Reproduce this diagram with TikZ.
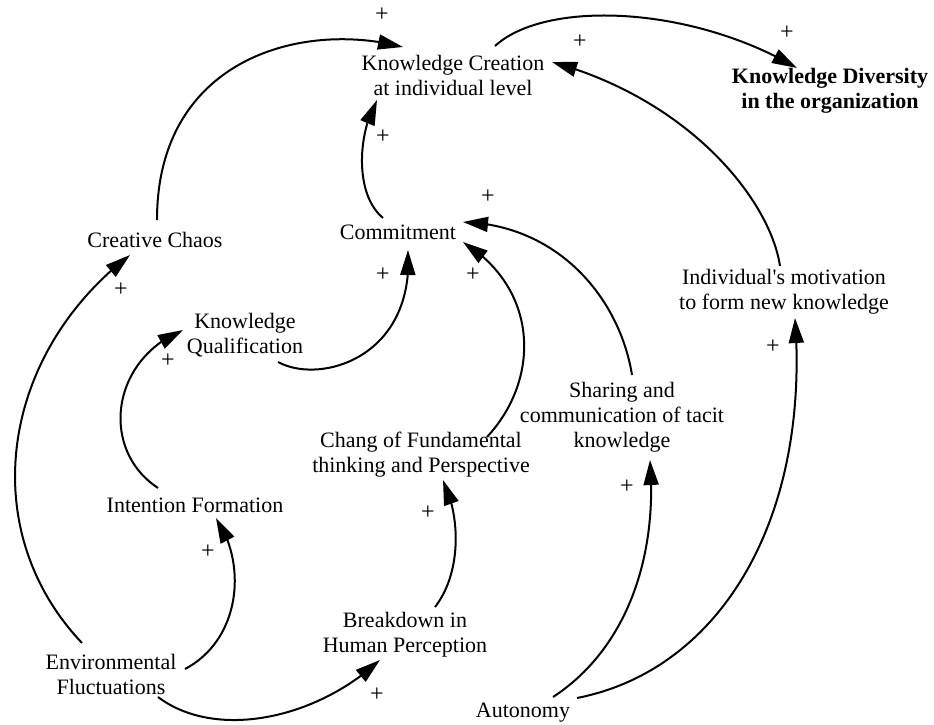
\documentclass[tikz,border=0pt]{standalone}
\usepackage{fontspec}
\setmainfont{Liberation Serif}
\usetikzlibrary{arrows.meta,bending,calc}
\begin{document}
\begin{tikzpicture}[x=1pt,y=-1pt,
  var/.style={align=center,inner sep=0pt,font=\fontsize{22}{25}\selectfont},
  sign/.style={inner sep=0pt,font=\fontsize{24}{24}\selectfont},
  link/.style={line width=2pt,-{Triangle[length=25pt,width=15pt,flex]}}]
\useasboundingbox (0,0) rectangle (934,725);
\fill[white] (0,0) rectangle (934,725);

% variables
\node[var] (kc)  at (453,75)  {Knowledge Creation\\at individual level};
\node[var,font=\fontsize{22}{25}\selectfont\bfseries] (kd) at (830,91) {Knowledge Diversity\\in the organization};
\node[var] (com) at (398,232) {Commitment};
\node[var] (cc)  at (155,240) {Creative Chaos};
\node[var] (kq)  at (245,335) {Knowledge\\Qualification};
\node[var] (im)  at (784,292) {Individual\textquotesingle s motivation\\to form new knowledge};
\node[var] (sh)  at (622,417) {Sharing and\\communication of tacit\\knowledge};
\node[var] (ch)  at (421,455) {Chang of Fundamental\\thinking and Perspective};
\node[var] (inf) at (195,505) {Intention Formation};
\node[var] (bd)  at (405,635) {Breakdown in\\Human Perception};
\node[var] (ef)  at (111,674) {Environmental\\Fluctuations};
\node[var] (au)  at (523,713) {Autonomy};

% causal links
\draw[link] ($(cc.center)+(2,-20)$) .. controls +(0,-160) and +(-103,-27) .. ($(kc.center)+(-50,-28)$);
\draw[link] ($(com.center)+(-15,-14)$) .. controls +(-28,-23) and +(-20,35) .. ($(kc.center)+(-76,25)$);
\draw[link] ($(kc.center)+(42,-29)$) .. controls +(50,-46) and +(-107,-63) .. ($(kd.center)+(-33,-23)$);
\draw[link] ($(im.center)+(-4,-26)$) .. controls +(-10,-66) and +(138,38) .. ($(kc.center)+(99,-13)$);
\draw[link] ($(kq.center)+(33,27)$) .. controls +(42,23) and +(7,108) .. ($(com.center)+(10,18)$);
\draw[link] ($(ch.center)+(66,-18)$) .. controls +(53,-57) and +(77,48) .. ($(com.center)+(65,10)$);
\draw[link] ($(sh.center)+(10,-42)$) .. controls +(-12,-75) and +(97,3) .. ($(com.center)+(65,-10)$);
\draw[link] ($(inf.center)+(-37,-17)$) .. controls +(-58,-38) and +(-73,30) .. ($(kq.center)+(-62,-5)$);
\draw[link] ($(ef.center)+(-29,-31)$) .. controls +(-107,-113) and +(-130,100) .. ($(cc.center)+(-25,15)$);
\draw[link] ($(ef.center)+(74,-5)$) .. controls +(55,-29) and +(32,47) .. ($(inf.center)+(21,13)$);
\draw[link] ($(ef.center)+(47,23)$) .. controls +(57,43) and +(-65,60) .. ($(bd.center)+(-25,25)$);
\draw[link] ($(bd.center)+(30,-28)$) .. controls +(25,-32) and +(19,40) .. ($(ch.center)+(22,25)$);
\draw[link] ($(au.center)+(30,-16)$) .. controls +(72,-47) and +(8,100) .. ($(sh.center)+(28,43)$);
\draw[link] ($(au.center)+(54,-15)$) .. controls +(143,-28) and +(15,202) .. ($(im.center)+(11,26)$);

% polarity signs
\node[sign] (p1)  at (382,15)  {+};
\node[sign] (p2)  at (580,42)  {+};
\node[sign] (p3)  at (787,33)  {+};
\node[sign] (p4)  at (383,137) {+};
\node[sign] (p5)  at (488,197) {+};
\node[sign] (p6)  at (121,290) {+};
\node[sign] (p7)  at (383,275) {+};
\node[sign] (p8)  at (473,275) {+};
\node[sign] (p9)  at (168,361) {+};
\node[sign] (p10) at (773,347) {+};
\node[sign] (p11) at (428,513) {+};
\node[sign] (p12) at (627,487) {+};
\node[sign] (p13) at (208,552) {+};
\node[sign] (p14) at (377,695) {+};
\end{tikzpicture}
\end{document}
